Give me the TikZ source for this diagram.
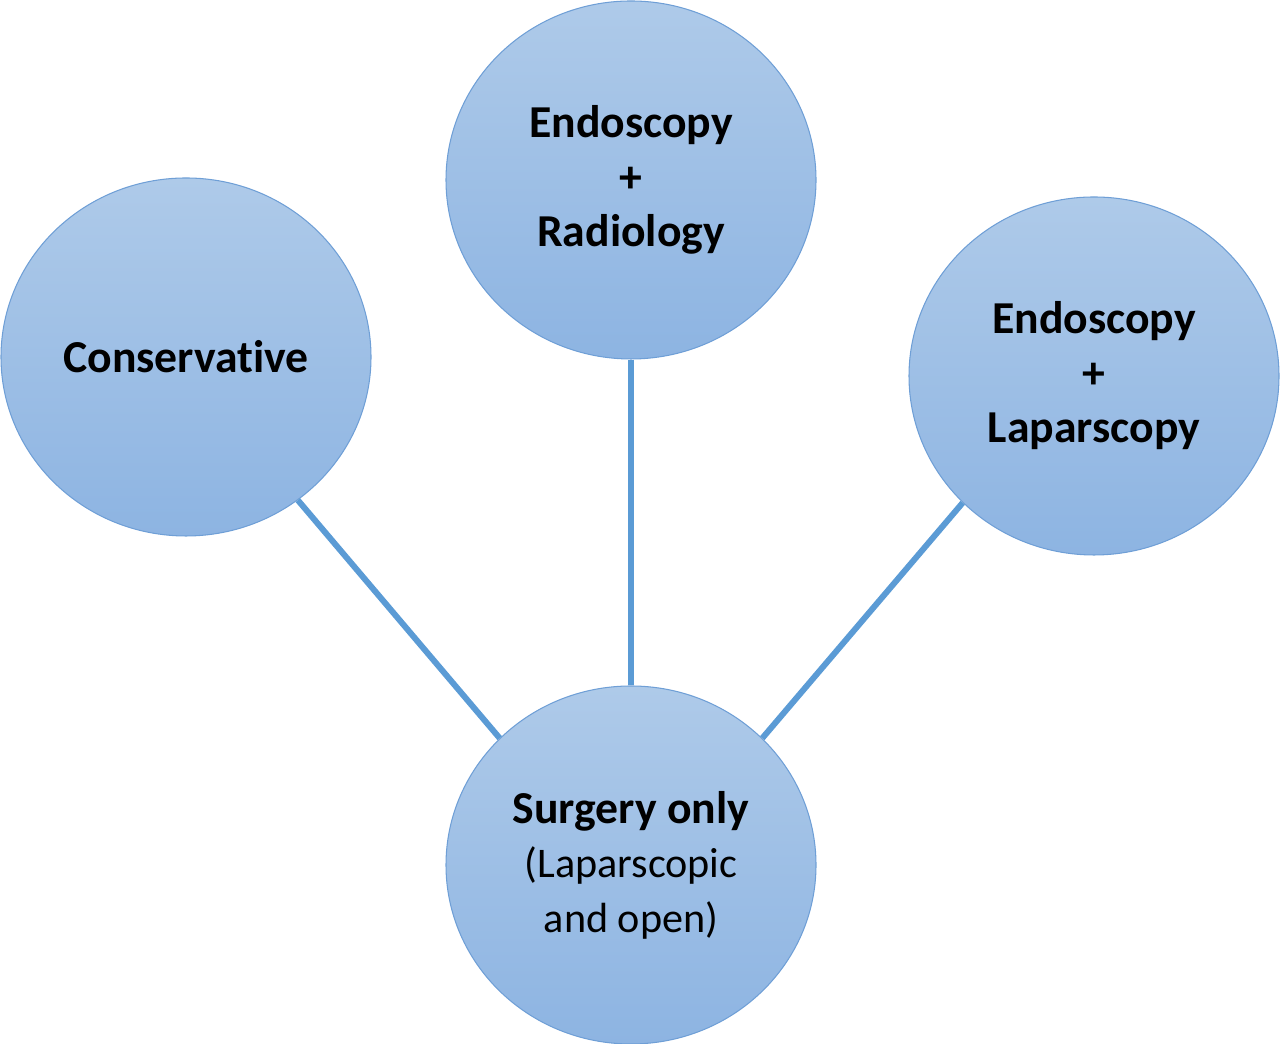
\documentclass[tikz,border=0pt]{standalone}
\usepackage{fontspec}
\setmainfont{Carlito}[Ligatures=NoCommon]
\usepackage{xcolor}
\usetikzlibrary{shapes.geometric}
\definecolor{BubbleTop}{HTML}{AECAE9}
\definecolor{BubbleBottom}{HTML}{8DB4E2}
\definecolor{BubbleEdge}{HTML}{6F9FD6}
\definecolor{LinkBlue}{HTML}{5B9BD5}

\begin{document}
\begin{tikzpicture}[every node/.style={ellipse, draw=BubbleEdge, line width=0.6pt,
                                       minimum width=7.4cm, minimum height=7.16cm,
                                       top color=BubbleTop, bottom color=BubbleBottom,
                                       align=center, font=\fontsize{26}{31}\selectfont},
                      link/.style={draw=LinkBlue, line width=3.4pt}]
  \useasboundingbox (0,0) rectangle (25.6,20.88);
  \node (cons) at (3.72,13.74) {\textbf{Conservative}};
  \node (radio) at (12.62,17.28) {\textbf{Endoscopy}\\ \textbf{+}\\ \textbf{Radiology}};
  \node (lapa) at (21.88,13.36) {\textbf{Endoscopy}\\ \textbf{+}\\ \textbf{Laparscopy}};
  \node (surg) at (12.62,3.58) {\textbf{Surgery only}\\ {\fontsize{24}{30}\selectfont (Laparscopic}\\
                                {\fontsize{24}{30}\selectfont and open)}};
  \draw[link] (cons.-52) -- (surg.136);
  \draw[link] (radio.south) -- (surg.north);
  \draw[link] (lapa.-136) -- (surg.44);
\end{tikzpicture}
\end{document}
